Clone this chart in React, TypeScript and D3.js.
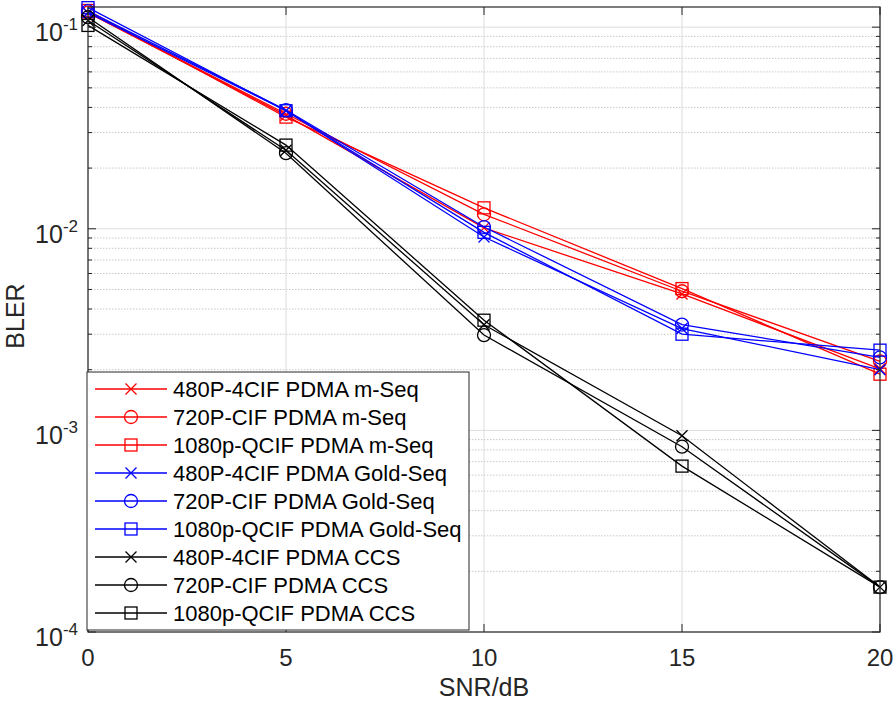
import React from "react";
import * as d3 from "d3";

const snr = [0, 5, 10, 15, 20];
const seriesNames = [
  "480P-4CIF PDMA m-Seq",
  "720P-CIF PDMA m-Seq",
  "1080p-QCIF PDMA m-Seq",
  "480P-4CIF PDMA Gold-Seq",
  "720P-CIF PDMA Gold-Seq",
  "1080p-QCIF PDMA Gold-Seq",
  "480P-4CIF PDMA CCS",
  "720P-CIF PDMA CCS",
  "1080p-QCIF PDMA CCS",
];
const mSeq480 = [0.118, 0.0365, 0.0101, 0.00475, 0.00202];
const mSeq720 = [0.118, 0.0372, 0.0118, 0.0049, 0.0022];
const mSeq1080 = [0.121, 0.0358, 0.0127, 0.00505, 0.0019];
const gold480 = [0.118, 0.0385, 0.0091, 0.0032, 0.002];
const gold720 = [0.12, 0.0388, 0.0102, 0.00335, 0.0023];
const gold1080 = [0.125, 0.0385, 0.0096, 0.003, 0.0025];
const ccs480 = [0.108, 0.0245, 0.00334, 0.00094, 0.000167];
const ccs720 = [0.112, 0.0237, 0.00297, 0.00083, 0.000167];
const ccs1080 = [0.102, 0.026, 0.00352, 0.000665, 0.000167];
const seriesValues = [mSeq480, mSeq720, mSeq1080, gold480, gold720, gold1080, ccs480, ccs720, ccs1080];
const seriesColors = ["#ff0000", "#ff0000", "#ff0000", "#0000ff", "#0000ff", "#0000ff", "#000000", "#000000", "#000000"];
const seriesMarkers = ["x", "o", "s", "x", "o", "s", "x", "o", "s"];
const xTicks = [0, 5, 10, 15, 20];
const yDecades = [-4, -3, -2, -1];

const W = 896, H = 704;
const L = 88, R = 880, T = 7, B = 632;
const FONT = "'Liberation Sans', Arial, sans-serif";

function Marker({ type, x, y, color }: { type: string; x: number; y: number; color: string }) {
  if (type === "x") {
    const s = 5.5;
    return (
      <path d={`M${x - s},${y - s}L${x + s},${y + s}M${x - s},${y + s}L${x + s},${y - s}`} stroke={color} strokeWidth={1.3} fill="none" />
    );
  }
  if (type === "o") return <circle cx={x} cy={y} r={6.5} stroke={color} strokeWidth={1.3} fill="none" />;
  return <rect x={x - 6} y={y - 6} width={12} height={12} stroke={color} strokeWidth={1.3} fill="none" />;
}

export default function App() {
  const xs = d3.scaleLinear().domain([0, 20]).range([L, R]);
  const ys = d3.scaleLog().domain([1e-4, Math.pow(10, -0.9)]).range([B, T]);
  const line = d3.line<number>().x((_, i) => xs(snr[i])).y((v) => ys(v));

  const minor: number[] = [];
  yDecades.forEach((d) => {
    for (let k = 2; k <= 9; k++) {
      const v = k * Math.pow(10, d);
      if (v < Math.pow(10, -0.9)) minor.push(v);
    }
  });

  const legX = 87, legY = 372, legW = 382, legH = 258, rowH = 28;

  return (
    <svg width={W} height={H} style={{ position: "absolute", left: 0, top: 0, background: "#fff" }} fontFamily={FONT}>
      <rect x={0} y={0} width={W} height={H} fill="#fff" />
      {minor.map((v, i) => (
        <line key={"mg" + i} x1={L} x2={R} y1={ys(v)} y2={ys(v)} stroke="#c8c8c8" strokeWidth={1} strokeDasharray="1.5,1.5" />
      ))}
      {yDecades.map((d) => (
        <line key={"yg" + d} x1={L} x2={R} y1={ys(Math.pow(10, d))} y2={ys(Math.pow(10, d))} stroke="#dcdcdc" strokeWidth={1} />
      ))}
      {xTicks.map((t) => (
        <line key={"xg" + t} x1={xs(t)} x2={xs(t)} y1={T} y2={B} stroke="#dcdcdc" strokeWidth={1} />
      ))}
      {seriesValues.map((vals, si) => (
        <g key={"s" + si}>
          <path d={line(vals) || ""} stroke={seriesColors[si]} strokeWidth={1.3} fill="none" />
          {vals.map((v, i) => (
            <Marker key={i} type={seriesMarkers[si]} x={xs(snr[i])} y={ys(v)} color={seriesColors[si]} />
          ))}
        </g>
      ))}
      <rect x={L} y={T} width={R - L} height={B - T} fill="none" stroke="#262626" strokeWidth={1.2} />
      {xTicks.map((t) => (
        <g key={"xt" + t}>
          <line x1={xs(t)} x2={xs(t)} y1={B} y2={B - 8} stroke="#262626" />
          <line x1={xs(t)} x2={xs(t)} y1={T} y2={T + 8} stroke="#262626" />
          <text x={xs(t)} y={B + 34} textAnchor="middle" fontSize={24} fill="#262626">{t}</text>
        </g>
      ))}
      {yDecades.map((d) => (
        <g key={"yt" + d}>
          <line x1={L} x2={L + 8} y1={ys(Math.pow(10, d))} y2={ys(Math.pow(10, d))} stroke="#262626" />
          <line x1={R} x2={R - 8} y1={ys(Math.pow(10, d))} y2={ys(Math.pow(10, d))} stroke="#262626" />
          <text x={L - 10} y={ys(Math.pow(10, d)) + 14} textAnchor="end" fontSize={25} fill="#262626">
            10<tspan dy={-11} fontSize={17}>{d}</tspan>
          </text>
        </g>
      ))}
      {minor.map((v, i) => (
        <g key={"mt" + i}>
          <line x1={L} x2={L + 4} y1={ys(v)} y2={ys(v)} stroke="#262626" />
          <line x1={R} x2={R - 4} y1={ys(v)} y2={ys(v)} stroke="#262626" />
        </g>
      ))}
      <text x={(L + R) / 2} y={696} textAnchor="middle" fontSize={25} fill="#262626">SNR/dB</text>
      <text transform={`translate(24,316) rotate(-90)`} textAnchor="middle" fontSize={25} fill="#262626">BLER</text>
      <rect x={legX} y={legY} width={legW} height={legH} fill="#fff" stroke="#262626" strokeWidth={1} />
      {seriesNames.map((n, i) => {
        const cy = legY + 17 + i * rowH;
        return (
          <g key={"lg" + i}>
            <line x1={95} x2={167} y1={cy} y2={cy} stroke={seriesColors[i]} strokeWidth={1.3} />
            <Marker type={seriesMarkers[i]} x={131} y={cy} color={seriesColors[i]} />
            <text x={173} y={cy + 8} fontSize={22} fill="#000">{n}</text>
          </g>
        );
      })}
    </svg>
  );
}
